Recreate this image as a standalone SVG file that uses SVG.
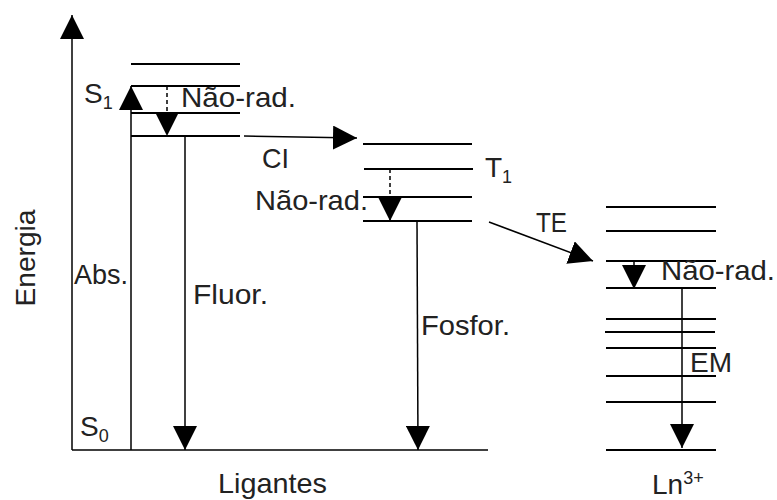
<svg xmlns="http://www.w3.org/2000/svg" width="777" height="500" viewBox="0 0 777 500">
<style>
.lv{stroke:#000;stroke-width:1.8;fill:none}
.ax{stroke:#000;stroke-width:1.5;fill:none}
.ar{stroke:#000;stroke-width:1.5;fill:none;marker-end:url(#ah)}
.ds{stroke-dasharray:4 3}
text{font-family:"Liberation Sans",Arial,sans-serif;font-size:28px;fill:#222}
.sub{font-size:18px}
</style>
<defs>
<marker id="ah" markerUnits="userSpaceOnUse" markerWidth="24" markerHeight="24" viewBox="0 0 24 24" refX="24" refY="12" orient="auto">
<path d="M0,0 L24,12 L0,24 Z" fill="#000"/>
</marker>
</defs>
<rect width="777" height="500" fill="#fff"/>
<g id="axes">
<line class="ar" x1="72" y1="450" x2="72" y2="15"/>
<line class="ax" x1="72" y1="450" x2="488" y2="450"/>
<text transform="translate(35,258) rotate(-90)" text-anchor="middle" textLength="97" lengthAdjust="spacingAndGlyphs">Energia</text>
<text x="218" y="493" textLength="109" lengthAdjust="spacingAndGlyphs">Ligantes</text>
</g>
<g id="singlet">
<line class="lv" x1="131" y1="64" x2="240" y2="64"/>
<line class="lv" x1="131" y1="86" x2="240" y2="86"/>
<line class="lv" x1="131" y1="113" x2="240" y2="113"/>
<line class="lv" x1="131" y1="136" x2="240" y2="136"/>
<text x="84" y="103">S<tspan class="sub" dy="6">1</tspan></text>
<text x="80" y="436">S<tspan class="sub" dy="6">0</tspan></text>
</g>
<g id="triplet">
<line class="lv" x1="363" y1="144" x2="472" y2="144"/>
<line class="lv" x1="364" y1="169" x2="473" y2="169"/>
<line class="lv" x1="363" y1="197" x2="472" y2="197"/>
<line class="lv" x1="363" y1="221" x2="472" y2="221"/>
<text x="485" y="177">T<tspan class="sub" dy="6">1</tspan></text>
</g>
<g id="lanthanide">
<line class="lv" x1="606" y1="207" x2="716" y2="207"/>
<line class="lv" x1="606" y1="231" x2="716" y2="231"/>
<line class="lv" x1="606" y1="261" x2="716" y2="261"/>
<line class="lv" x1="606" y1="288" x2="716" y2="288"/>
<line class="lv" x1="606" y1="319" x2="716" y2="319"/>
<line class="lv" x1="605" y1="332" x2="715" y2="332"/>
<line class="lv" x1="606" y1="348" x2="716" y2="348"/>
<line class="lv" x1="606" y1="376" x2="716" y2="376"/>
<line class="lv" x1="606" y1="402" x2="716" y2="402"/>
<line class="lv" x1="606" y1="450" x2="716" y2="450"/>
<text x="652" y="494">Ln<tspan class="sub" dy="-10">3+</tspan></text>
</g>
<g id="connectors">
<line class="ar" x1="131" y1="450" x2="131" y2="86"/>
<line class="ar ds" x1="167" y1="86" x2="167" y2="136"/>
<line class="ar" x1="185" y1="136" x2="185" y2="450"/>
<line class="ar" x1="244" y1="136" x2="357" y2="138"/>
<line class="ar ds" x1="390" y1="169" x2="390" y2="221"/>
<line class="ar" x1="417" y1="221" x2="418" y2="450"/>
<line class="ar" x1="489" y1="222" x2="593" y2="261"/>
<line class="ar" x1="634" y1="261" x2="634" y2="289"/>
<line class="ar" x1="682" y1="289" x2="682" y2="448"/>
</g>
<g id="labels">
<text x="181" y="107" textLength="115" lengthAdjust="spacingAndGlyphs">Não-rad.</text>
<text x="262" y="168" textLength="27" lengthAdjust="spacingAndGlyphs">CI</text>
<text x="255" y="210" textLength="113" lengthAdjust="spacingAndGlyphs">Não-rad.</text>
<text x="536" y="232" textLength="31" lengthAdjust="spacingAndGlyphs">TE</text>
<text x="661" y="280" textLength="114" lengthAdjust="spacingAndGlyphs">Não-rad.</text>
<text x="74" y="284" textLength="54" lengthAdjust="spacingAndGlyphs">Abs.</text>
<text x="193" y="304" textLength="75" lengthAdjust="spacingAndGlyphs">Fluor.</text>
<text x="421" y="335" textLength="89" lengthAdjust="spacingAndGlyphs">Fosfor.</text>
<text x="690" y="372" textLength="42" lengthAdjust="spacingAndGlyphs">EM</text>
</g>
</svg>
